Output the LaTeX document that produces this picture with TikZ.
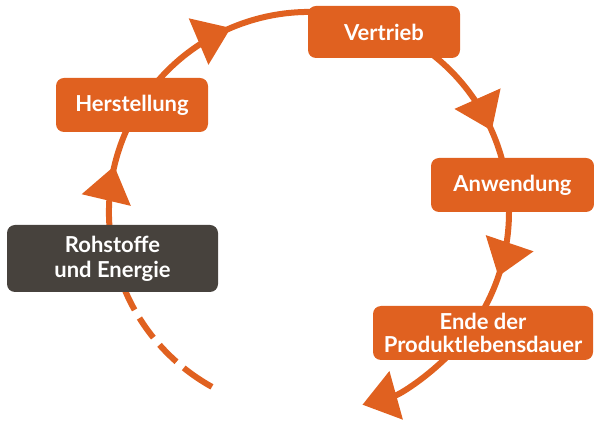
\documentclass[tikz,border=0pt]{standalone}
\usepackage{fontspec}
\setmainfont{Lato}
\usetikzlibrary{arrows.meta, calc, decorations.markings}
\definecolor{flow}{RGB}{224,97,32}
\definecolor{rawgray}{RGB}{71,66,61}

\begin{document}
\begin{tikzpicture}[x=1pt, y=1pt,
    stage/.style={rectangle, rounded corners=8pt, fill=flow, text=white, align=center,
        inner sep=0pt, font=\fontsize{22}{23}\selectfont\bfseries},
    ring/.style={draw=flow, line width=6pt},
    bigtip/.style={-{Triangle[length=35pt, width=49pt]}}]
    \useasboundingbox (0,0) rectangle (594,425);
    % Centre of the cycle
    \coordinate (c) at (309,213);

    % Dashed return to the raw materials
    \draw[ring, dash pattern=on 32.5pt off 9.5pt on 24pt off 9.5pt on 24pt off 9.5pt on 34pt off 40pt]
        ($(c)+(200:200)$) arc[start angle=200, end angle=241, radius=200];

    % Life cycle, running clockwise
    \draw[ring, bigtip,
        postaction={decorate, decoration={markings,
            mark=at position 0.1213 with {\arrow{Triangle[length=35pt, width=49pt]}},
            mark=at position 0.3169 with {\arrow{Triangle[length=35pt, width=49pt]}},
            mark=at position 0.6412 with {\arrow{Triangle[length=35pt, width=49pt]}},
            mark=at position 0.7970 with {\arrow{Triangle[length=35pt, width=49pt]}}}}]
        ($(c)+(200:200)$) arc[start angle=200, end angle=-74.5, radius=200];

    % Stages
    \node[stage, minimum width=152pt, minimum height=52pt] (vertrieb) at (384,393) {Vertrieb};
    \node[stage, minimum width=152pt, minimum height=54pt] (herstellung) at (132,320) {Herstellung};
    \node[stage, minimum width=163pt, minimum height=54pt] (anwendung) at (512.5,240) {Anwendung};
    \node[stage, minimum width=220pt, minimum height=54pt] (ende) at (483,92) {Ende der\\Produktlebensdauer};
    \node[stage, fill=rawgray, minimum width=211pt, minimum height=67pt] (rohstoffe) at (112.5,166.5)
        {Rohstoffe\\[2pt]und Energie};
\end{tikzpicture}
\end{document}
